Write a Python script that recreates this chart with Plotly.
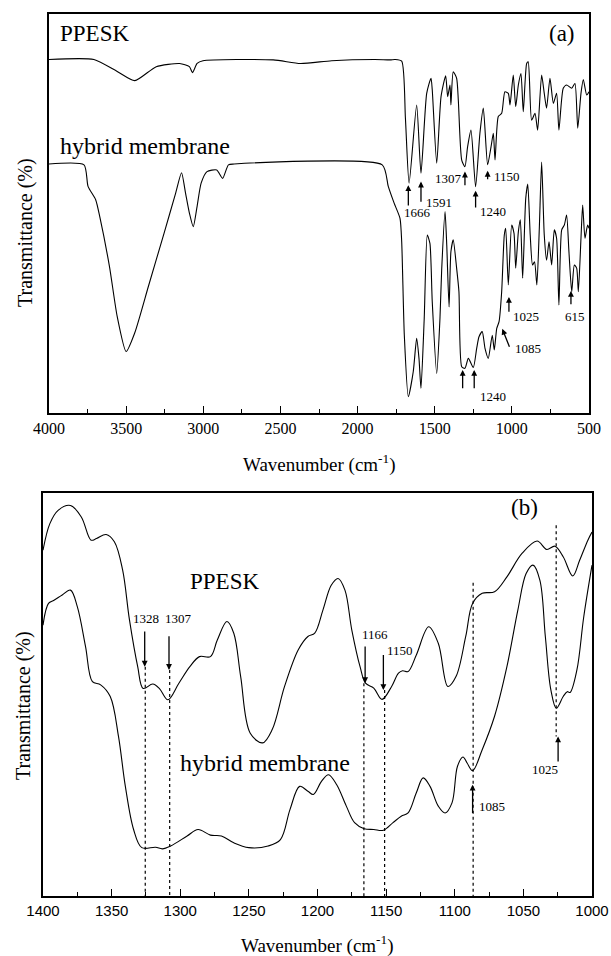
import plotly.graph_objects as go

# ---------------- Panel (a): full-range FTIR spectra ----------------
a_ppesk_wn = [4000, 3709, 3558, 3444, 3305, 3153, 3090, 3070, 3040, 3002,
              2547, 2370, 2168, 1890, 1788, 1757, 1714, 1690, 1666, 1617,
              1589, 1552, 1524, 1516, 1487, 1459, 1429, 1416, 1401, 1395,
              1380, 1358, 1347, 1325, 1304, 1287, 1265, 1235, 1207, 1185,
              1157, 1135, 1120, 1109, 1088, 1066, 1045, 1023, 1012, 991,
              975, 958, 941, 926, 904, 894, 872, 850, 833, 807,
              790, 775, 753, 731, 710, 695, 667, 645, 612, 591,
              573, 552, 537, 515, 500]
a_ppesk_t = [88.6, 88.6, 85.6, 83.3, 86.8, 87.6, 86.8, 85.3, 87.6, 88.3,
             88.5, 87.6, 88.3, 88.6, 88.5, 88.6, 88.2, 74.0, 57.6, 77.2,
             60.1, 80.1, 83.9, 81.0, 62.6, 79.3, 84.5, 79.3, 82.2, 77.2,
             85.5, 83.9, 78.4, 63.4, 61.7, 66.7, 70.9, 56.7, 70.1, 76.4,
             62.2, 66.7, 70.1, 63.4, 74.3, 75.1, 80.5, 80.1, 77.2, 84.7,
             76.8, 82.2, 85.1, 75.5, 87.6, 88.0, 73.4, 75.1, 70.9, 84.7,
             80.1, 76.4, 83.9, 77.6, 80.1, 70.9, 81.4, 82.2, 81.4, 82.6,
             71.4, 80.1, 83.6, 79.7, 80.5]

a_hybrid_wn = [4000, 3773, 3747, 3697, 3671, 3608, 3558, 3500, 3444, 3356,
               3254, 3179, 3141, 3115, 3090, 3065, 3040, 3014, 2976, 2913,
               2875, 2837, 2800, 1840, 1801, 1763, 1725, 1714, 1697, 1671,
               1639, 1617, 1602, 1589, 1568, 1548, 1531, 1516, 1487, 1466,
               1455, 1433, 1422, 1407, 1395, 1380, 1358, 1343, 1325, 1304,
               1282, 1250, 1228, 1213, 1192, 1174, 1153, 1127, 1114, 1098,
               1083, 1066, 1049, 1040, 1023, 1001, 986, 975, 958, 945,
               930, 910, 897, 881, 866, 853, 838, 822, 807, 790,
               775, 759, 742, 725, 710, 695, 677, 660, 645, 630,
               612, 595, 580, 569, 552, 541, 526, 509, 500]
a_hybrid_t = [62.4, 62.2, 56.8, 53.4, 49.2, 36.7, 24.2, 15.4, 20.1, 31.7,
              45.1, 55.1, 60.2, 55.1, 50.1, 46.7, 51.8, 57.6, 60.5, 60.9,
              58.8, 62.2, 62.4, 62.2, 56.8, 52.6, 48.8, 42.9, 19.5, 4.1,
              10.4, 18.7, 13.7, 6.2, 23.7, 44.6, 42.5, 27.9, 9.9, 23.7,
              35.8, 50.5, 42.1, 26.6, 40.4, 43.4, 36.3, 30.4, 11.6, 11.2,
              13.7, 11.4, 16.2, 19.1, 20.4, 16.2, 13.7, 19.5, 15.8, 21.2,
              22.9, 30.4, 44.6, 46.3, 32.1, 47.1, 45.0, 36.3, 45.4, 48.4,
              33.8, 53.8, 57.4, 44.6, 37.1, 37.9, 32.1, 46.3, 62.9, 44.6,
              38.3, 42.9, 37.1, 45.9, 43.8, 27.1, 45.9, 47.1, 49.6, 40.4,
              30.4, 37.1, 36.3, 30.4, 43.8, 52.1, 43.8, 47.1, 46.3]

a_tickvals = [4000, 3500, 3000, 2500, 2000, 1500, 1000, 500]
a_minorvals = [3750, 3250, 2750, 2250, 1750, 1250, 750]

# arrows in (a): x of head, head y, tail y, x of tail
a_arrows = [(1671, 57.1, 51.6, 1671),
            (1589, 58.0, 52.6, 1589),
            (1304, 60.5, 56.7, 1304),
            (1235, 55.7, 51.1, 1235),
            (1157, 60.7, 58.2, 1157),
            (1319, 10.8, 5.8, 1319),
            (1244, 10.8, 5.8, 1244),
            (1062, 21.1, 16.2, 1012),
            (1019, 29.1, 25.0, 1019),
            (617, 30.6, 26.9, 617)]
a_labels = [("1666", 1610, 50.3), ("1591", 1472, 52.7), ("1307", 1412, 58.8),
            ("1150", 1032, 59.2), ("1240", 1120, 50.5), ("1240", 1122, 4.1),
            ("1085", 895, 16.2), ("1025", 908, 24.1), ("615", 594, 24.1)]

# ---------------- Panel (b): 1400-1000 cm-1 detail ----------------
b_ppesk_wn = [1400, 1395, 1389, 1380, 1372, 1365, 1361, 1354, 1348, 1342,
              1337, 1331, 1327, 1320, 1315, 1309, 1301, 1293, 1286, 1278,
              1273, 1266, 1261, 1256, 1249, 1240, 1233, 1224, 1214, 1207,
              1202, 1196, 1190, 1185, 1180, 1175, 1169, 1165, 1159, 1153,
              1146, 1141, 1138, 1134, 1128, 1119, 1112, 1105, 1099, 1092,
              1087, 1080, 1071, 1062, 1051, 1040, 1033, 1027, 1021, 1014,
              1009, 1003, 1000]
b_ppesk_t = [85.8, 92.4, 95.7, 96.9, 94.0, 88.3, 88.7, 89.7, 87.9, 80.9,
             68.5, 56.9, 51.5, 52.6, 51.4, 48.7, 52.8, 56.9, 59.4, 59.4,
             63.5, 68.1, 65.2, 54.5, 40.4, 38.0, 41.3, 52.0, 61.1, 64.4,
             65.2, 71.0, 77.1, 78.8, 75.9, 66.0, 56.9, 52.8, 51.6, 48.8,
             52.0, 55.3, 55.9, 55.7, 59.8, 66.8, 62.7, 52.0, 54.5, 64.4,
             72.6, 75.1, 75.5, 79.2, 85.0, 88.1, 86.0, 86.8, 84.2, 79.4,
             83.3, 88.3, 90.3]

b_hybrid_wn = [1400, 1396, 1392, 1386, 1380, 1375, 1369, 1364, 1358, 1351,
               1345, 1340, 1334, 1328, 1318, 1313, 1307, 1295, 1287, 1278,
               1270, 1261, 1250, 1236, 1227, 1220, 1213, 1207, 1203, 1197,
               1192, 1186, 1179, 1173, 1166, 1159, 1152, 1145, 1139, 1134,
               1128, 1123, 1118, 1112, 1107, 1102, 1098, 1094, 1091, 1087,
               1080, 1071, 1062, 1054, 1048, 1043, 1038, 1034, 1030, 1026,
               1021, 1018, 1016, 1011, 1006, 1000]
b_hybrid_t = [67.2, 72.6, 73.4, 74.7, 75.9, 71.8, 61.9, 53.2, 52.4, 49.5,
              39.6, 27.2, 16.5, 12.0, 12.1, 11.7, 12.4, 14.9, 16.5, 15.1,
              14.9, 13.2, 12.0, 12.4, 14.0, 21.5, 27.2, 26.0, 25.2, 28.5,
              30.1, 27.6, 22.3, 18.2, 16.7, 16.5, 16.3, 18.2, 19.8, 20.6,
              25.6, 29.3, 27.2, 22.3, 20.6, 23.1, 32.2, 34.5, 33.0, 31.1,
              36.3, 44.6, 56.9, 71.0, 80.0, 82.1, 78.4, 64.4, 51.2, 46.6,
              49.5, 50.7, 50.5, 56.1, 69.3, 82.1]

b_tickvals = [1400, 1350, 1300, 1250, 1200, 1150, 1100, 1050, 1000]
b_minorvals = [1375, 1325, 1275, 1225, 1175, 1125, 1075, 1025]

# dotted guide lines in (b): x, top, bottom
b_guides = [(1325.5, 56.9, 0), (1307.7, 56.1, 0), (1166.2, 52.8, 0),
            (1151.1, 51.1, 0), (1086.6, 77.7, 0), (1026.1, 92.0, 39.6)]
# arrows in (b): x, head y, tail y
b_arrows = [(1325.9, 56.9, 66.0), (1308.2, 56.1, 64.8), (1165.3, 52.8, 62.3),
            (1152.0, 51.1, 60.2), (1087.0, 27.6, 20.2), (1024.7, 39.6, 33.0)]
b_labels = [("1328", 1325, 68.9), ("1307", 1301, 68.9), ("1166", 1158, 64.8),
            ("1150", 1140, 61.0), ("1085", 1073, 22.3), ("1025", 1034, 31.4)]

SERIF = "Liberation Serif"
SANS = "Liberation Sans"
W, H = 611, 956

fig = go.Figure()
line = dict(color="black", width=1.1)
fig.add_trace(go.Scatter(x=a_ppesk_wn, y=a_ppesk_t, mode="lines",
                         line=dict(**line, shape="spline", smoothing=0.6),
                         xaxis="x", yaxis="y", showlegend=False))
fig.add_trace(go.Scatter(x=a_hybrid_wn, y=a_hybrid_t, mode="lines",
                         line=dict(**line, shape="spline", smoothing=0.6),
                         xaxis="x", yaxis="y", showlegend=False))
fig.add_trace(go.Scatter(x=b_ppesk_wn, y=b_ppesk_t, mode="lines",
                         line=dict(**line, shape="spline", smoothing=1.0),
                         xaxis="x2", yaxis="y2", showlegend=False))
fig.add_trace(go.Scatter(x=b_hybrid_wn, y=b_hybrid_t, mode="lines",
                         line=dict(**line, shape="spline", smoothing=1.0),
                         xaxis="x2", yaxis="y2", showlegend=False))
for gx, top, bot in b_guides:
    fig.add_trace(go.Scatter(x=[gx, gx], y=[top, bot], mode="lines",
                             line=dict(color="black", width=1.2, dash="dot"),
                             xaxis="x2", yaxis="y2", showlegend=False))

ann = []
def arrow(xr, yr, x, y, ax, ay):
    ann.append(dict(xref=xr, yref=yr, axref=xr, ayref=yr, x=x, y=y, ax=ax, ay=ay,
                    text="", showarrow=True, arrowhead=2, arrowsize=0.9,
                    arrowwidth=1.3, arrowcolor="black", standoff=0, startstandoff=0))

def label(xr, yr, t, x, y, size, family=SERIF):
    ann.append(dict(xref=xr, yref=yr, x=x, y=y, text=t, showarrow=False,
                    font=dict(family=family, size=size, color="#000000"),
                    xanchor="center", yanchor="middle"))

for x, hy, ty, tx in a_arrows:
    arrow("x", "y", x, hy, tx, ty)
for t, x, y in a_labels:
    label("x", "y", t, x, y, 13)
for x, hy, ty in b_arrows:
    arrow("x2", "y2", x, hy, x, ty)
for t, x, y in b_labels:
    label("x2", "y2", t, x, y, 13)

label("x", "y", "PPESK", 3706, 95.1, 23)
label("x", "y", "hybrid membrane", 3381, 66.8, 24)
label("x", "y", "(a)", 676, 95.2, 23)
label("x2", "y2", "PPESK", 1268, 78.0, 23)
label("x2", "y2", "hybrid membrane", 1238, 33.0, 24)
label("x2", "y2", "(b)", 1049, 96.5, 23)

# axis titles
for x, y, t, ang in [(319 / W, 1 - 464 / H, "Wavenumber (cm<sup>-1</sup>)", 0),
                     (25 / W, 1 - 233 / H, "Transmittance (%)", -90),
                     (317 / W, 1 - 944 / H, "Wavenumber (cm<sup>-1</sup>)", 0),
                     (23 / W, 1 - 706 / H, "Transmittance (%)", -90)]:
    ann.append(dict(xref="paper", yref="paper", x=x, y=y, text=t, showarrow=False,
                    textangle=ang, font=dict(family=SERIF, size=20 if ang else 19,
                                             color="black"),
                    xanchor="center", yanchor="middle"))

frame = dict(showline=True, linecolor="black", linewidth=1.8, mirror=True,
             showgrid=False, zeroline=False)
fig.update_layout(
    width=W, height=H, margin=dict(l=0, r=0, t=0, b=0),
    paper_bgcolor="white", plot_bgcolor="white", showlegend=False,
    annotations=ann,
    xaxis=dict(domain=[49 / W, 589 / W], range=[4000, 500], anchor="y",
               tickmode="array", tickvals=a_tickvals, ticks="inside", ticklen=7,
               tickwidth=1.4, tickcolor="black",
               minor=dict(tickmode="array", tickvals=a_minorvals, ticks="inside",
                          ticklen=4, tickwidth=1.2, tickcolor="black"),
               tickfont=dict(family=SERIF, size=16, color="black"),
               automargin=False, **frame),
    yaxis=dict(domain=[1 - 413 / H, 1 - 14 / H], range=[0, 100], anchor="x",
               showticklabels=False, ticks="", automargin=False, **frame),
    xaxis2=dict(domain=[43 / W, 592 / W], range=[1400, 1000], anchor="y2",
                tickmode="array", tickvals=b_tickvals, ticks="inside", ticklen=7,
                tickwidth=1.4, tickcolor="black",
                minor=dict(tickmode="array", tickvals=b_minorvals, ticks="inside",
                           ticklen=4, tickwidth=1.2, tickcolor="black"),
                tickfont=dict(family=SANS, size=15, color="black"),
                automargin=False, **frame),
    yaxis2=dict(domain=[1 - 896 / H, 1 - 493 / H], range=[0, 100], anchor="x2",
                showticklabels=False, ticks="", automargin=False, **frame),
)

fig.write_html("out.html")
